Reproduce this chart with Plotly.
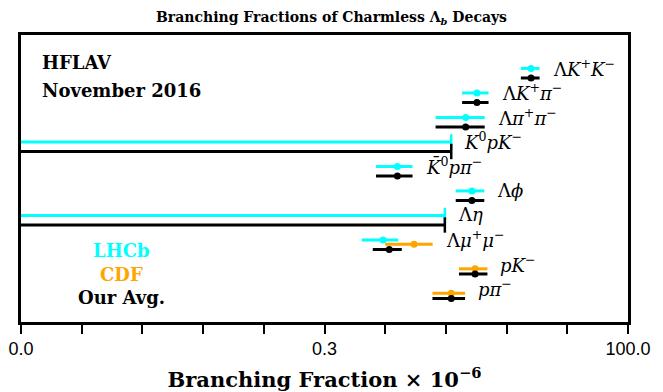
import numpy as np
import plotly.graph_objects as go

# Decay modes, top to bottom
decays = [
    "Λ<i>K</i><sup>+</sup><i>K</i><sup>−</sup>",
    "Λ<i>K</i><sup>+</sup><i>π</i><sup>−</sup>",
    "Λ<i>π</i><sup>+</sup><i>π</i><sup>−</sup>",
    "<i>K</i><sup>0</sup><i>pK</i><sup>−</sup>",
    "<i>K̄</i><sup>0</sup><i>pπ</i><sup>−</sup>",
    "Λ<i>ϕ</i>",
    "Λ<i>η</i>",
    "Λ<i>μ</i><sup>+</sup><i>μ</i><sup>−</sup>",
    "<i>pK</i><sup>−</sup>",
    "<i>pπ</i><sup>−</sup>",
]

# Measurements (x 10^-6); None = not measured, upper limits listed separately
lhcb_val = [15.9, 5.7, 4.6, None, 1.26, 5.18, None, 0.96, None, None]
lhcb_err = [2.8, 1.4, 2.0, None, 0.42, 1.37, None, 0.32, None, None]
cdf_val = [None, None, None, None, None, None, None, 1.73, 5.5, 3.5]
cdf_err = [None, None, None, None, None, None, None, 0.73, 1.45, 1.05]
avg_val = [15.9, 5.7, 4.6, None, 1.26, 5.18, None, 1.08, 5.5, 3.5]
avg_err = [2.8, 1.4, 2.0, None, 0.42, 1.37, None, 0.29, 1.45, 1.05]

# 90% CL upper limits (x 10^-6)
lhcb_ul = [None, None, None, 3.5, None, None, 3.1, None, None, None]
avg_ul = [None, None, None, 3.5, None, None, 3.1, None, None, None]

x_min, x_max = 1e-3, 100.0
tick_vals = [10 ** (-3 + 0.5 * k) for k in range(11)]
tick_text = ["0.0", "", "", "", "", "0.3", "", "", "", "", "100.0"]

CYAN = "#00FFFF"
ORANGE = "#FFA500"
BLACK = "#000000"

# vertical offsets (in row units) for each source within a row
experiments = [
    ("LHCb", lhcb_val, lhcb_err, lhcb_ul, CYAN, -0.39),
    ("CDF", cdf_val, cdf_err, [None] * len(decays), ORANGE, -0.21),
    ("Our Avg.", avg_val, avg_err, avg_ul, BLACK, 0.0),
]

W, H = 663, 392
ML, MR, MT, MB = 21, 35, 35, 70


def px_to_paper(px, py):
    return ((px - ML) / (W - ML - MR), (H - MB - py) / (H - MT - MB))


fig = go.Figure()

for name, vals, errs, uls, color, dy in experiments:
    xs, ys, es = [], [], []
    for i, (v, e) in enumerate(zip(vals, errs)):
        if v is not None:
            xs.append(v)
            ys.append(i + dy)
            es.append(e)
    if xs:
        fig.add_trace(go.Scatter(
            x=xs, y=ys, mode="markers",
            marker=dict(color=color, size=7),
            error_x=dict(type="data", array=es, color=color,
                         thickness=3, width=0),
            showlegend=False, hoverinfo="skip"))
    for i, u in enumerate(uls):
        if u is not None:
            fig.add_trace(go.Scatter(
                x=[x_min, u], y=[i + dy, i + dy], mode="lines",
                line=dict(color=color, width=3),
                showlegend=False, hoverinfo="skip"))
            fig.add_trace(go.Scatter(
                x=[u], y=[i + dy], mode="markers",
                marker=dict(symbol="line-ns", size=11,
                            line=dict(color=color, width=2.5)),
                showlegend=False, hoverinfo="skip"))

SERIF = "DejaVu Serif"
annotations = []
# decay labels to the right of the rightmost mark in each row
for i, lab in enumerate(decays):
    ends = []
    for v, e in zip([lhcb_val[i], cdf_val[i], avg_val[i]],
                    [lhcb_err[i], cdf_err[i], avg_err[i]]):
        if v is not None:
            ends.append(v + e)
    for u in (lhcb_ul[i], avg_ul[i]):
        if u is not None:
            ends.append(u)
    annotations.append(dict(
        x=np.log10(max(ends)), y=i - 0.42, xref="x", yref="y",
        text=lab, showarrow=False, xanchor="left", yanchor="middle",
        xshift=11, font=dict(family=SERIF, size=18, color=BLACK)))

for txt, px, py in [("<b>HFLAV</b>", 40, 62), ("<b>November 2016</b>", 40, 91)]:
    ax, ay = px_to_paper(px, py)
    annotations.append(dict(
        x=ax, y=ay, xref="paper", yref="paper",
        text=txt, showarrow=False, xanchor="left", yanchor="middle",
        font=dict(family=SERIF, size=18, color=BLACK)))

for (name, _, _, _, color, _), py in zip(experiments, [250, 274, 297]):
    ax, ay = px_to_paper(122, py)
    annotations.append(dict(
        x=ax, y=ay, xref="paper", yref="paper",
        text=f"<b>{name}</b>", showarrow=False,
        xanchor="center", yanchor="middle",
        font=dict(family=SERIF, size=18, color=color)))

fig.update_layout(
    width=W, height=H,
    margin=dict(l=ML, r=MR, t=MT, b=MB),
    paper_bgcolor="white", plot_bgcolor="white",
    title=dict(text="<b>Branching Fractions of Charmless Λ<sub><i>b</i></sub> Decays</b>",
               x=0.5, xanchor="center", y=1 - 17 / H, yanchor="middle",
               font=dict(family=SERIF, size=14, color=BLACK)),
    xaxis=dict(type="log", range=[np.log10(x_min), np.log10(x_max)],
               tickvals=tick_vals, ticktext=tick_text,
               ticks="outside", ticklen=9, tickwidth=2, tickcolor=BLACK,
               showline=True, linecolor=BLACK, linewidth=2.5, mirror=True,
               showgrid=False, zeroline=False, automargin=False,
               tickfont=dict(family="Liberation Sans", size=18, color=BLACK),
               title=dict(text="<b>Branching Fraction × 10<sup>−6</sup></b>",
                          font=dict(family=SERIF, size=21, color=BLACK),
                          standoff=14)),
    yaxis=dict(range=[9.96, -1.755], showticklabels=False, ticks="",
               showline=True, linecolor=BLACK, linewidth=2.5, mirror=True,
               showgrid=False, zeroline=False, automargin=False),
    annotations=annotations,
)

fig.write_html("out.html")
